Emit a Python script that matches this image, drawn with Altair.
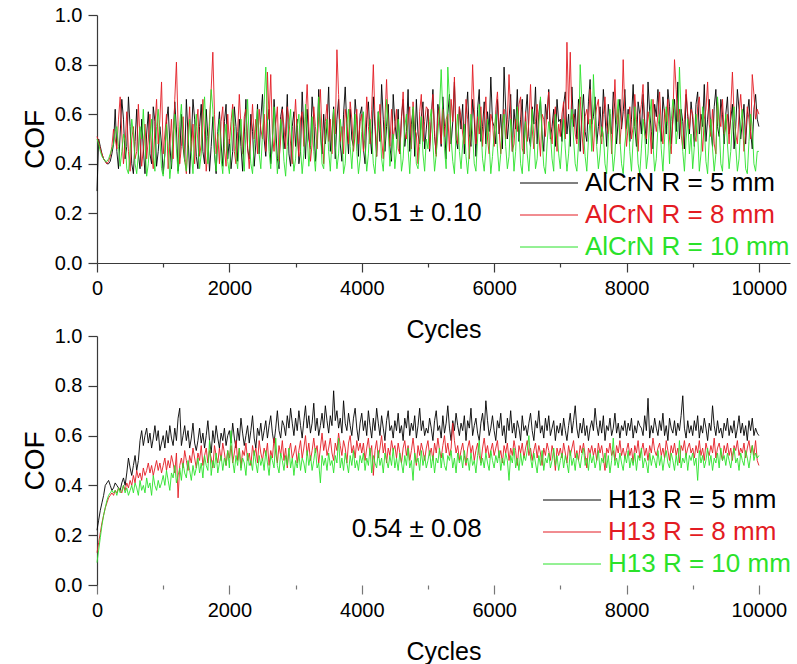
import altair as alt
import pandas as pd

FONT = "Liberation Sans"

# cycles sampled every 25 cycles, 0 .. 10000
CYCLES = list(range(0, 10001, 25))

TOP_LABELS = ["AlCrN R = 5 mm", "AlCrN R = 8 mm", "AlCrN R = 10 mm"]
BOTTOM_LABELS = ["H13 R = 5 mm", "H13 R = 8 mm", "H13 R = 10 mm"]
COLORS = ["#000000", "#e31b23", "#2ae22a"]
ANNOTATIONS = ["0.51 \u00b1 0.10", "0.54 \u00b1 0.08"]

X_TICKS = list(range(0, 10001, 1000))
Y_TICKS = [round(i * 0.1, 1) for i in range(11)]

# COF values in hundredths (one row = 500 cycles)
alcrn_5 = [
    29, 50, 47, 44, 42, 41, 40, 40, 41, 44, 48, 62, 45, 38, 52, 66, 58, 42, 47, 67,
    55, 40, 36, 49, 62, 44, 38, 58, 46, 36, 52, 61, 44, 40, 63, 57, 39, 45, 55, 48,
    36, 44, 57, 63, 48, 38, 50, 65, 54, 37, 43, 60, 47, 41, 66, 52, 36, 49, 66, 58,
    43, 38, 55, 64, 45, 40, 62, 51, 37, 47, 59, 44, 36, 53, 61, 48, 39, 57, 64, 42,
    50, 38, 45, 63, 55, 41, 58, 47, 37, 52, 66, 46, 42, 60, 53, 39, 48, 64, 44, 58,
    68, 50, 43, 57, 62, 40, 48, 66, 55, 42, 38, 59, 63, 46, 52, 68, 44, 39, 55, 61,
    47, 58, 40, 45, 69, 54, 42, 62, 50, 46, 67, 58, 41, 49, 70, 53, 44, 60, 48, 56,
    71, 45, 52, 63, 42, 58, 66, 48, 41, 60, 71, 55, 44, 62, 50, 47, 66, 58, 43, 60,
    63, 46, 40, 58, 65, 52, 44, 67, 55, 43, 61, 49, 72, 58, 45, 55, 64, 47, 41, 68,
    57, 50, 62, 44, 59, 66, 47, 53, 70, 45, 56, 62, 43, 66, 52, 48, 59, 65, 46, 54,
    62, 45, 58, 70, 51, 44, 64, 58, 47, 67, 55, 42, 60, 68, 48, 57, 73, 50, 46, 63,
    54, 64, 44, 60, 69, 52, 47, 66, 58, 43, 62, 70, 49, 55, 65, 48, 61, 53, 75, 57,
    55, 48, 66, 52, 60, 46, 79, 62, 50, 58, 68, 45, 62, 54, 70, 49, 58, 66, 44, 60,
    68, 51, 47, 63, 56, 71, 48, 60, 66, 52, 45, 64, 58, 70, 50, 55, 62, 47, 66, 57,
    58, 49, 64, 69, 52, 60, 47, 71, 55, 62, 50, 66, 45, 60, 68, 53, 49, 65, 74, 56,
    59, 67, 48, 55, 63, 51, 70, 60, 47, 64, 57, 52, 69, 62, 48, 58, 66, 54, 61, 70,
    54, 62, 49, 58, 72, 55, 47, 65, 60, 52, 68, 57, 48, 73, 61, 53, 46, 64, 59, 70,
    56, 49, 67, 60, 52, 70, 63, 48, 58, 66, 53, 73, 50, 62, 57, 46, 68, 59, 52, 65,
    58, 47, 64, 69, 52, 60, 55, 72, 49, 58, 66, 53, 47, 63, 70, 55, 51, 66, 60, 48,
    60, 67, 52, 58, 64, 46, 55, 70, 62, 50, 57, 64, 48, 60, 66, 53, 46, 62, 68, 58,
    55]
alcrn_8 = [
    51, 49, 46, 44, 42, 41, 40, 41, 43, 47, 54, 50, 46, 58, 67, 52, 40, 48, 61, 45,
    37, 50, 55, 42, 45, 64, 50, 39, 46, 56, 42, 50, 60, 44, 38, 55, 66, 48, 58, 73,
    44, 52, 60, 38, 47, 58, 42, 66, 81, 55, 40, 47, 59, 43, 36, 52, 63, 45, 56, 40,
    55, 62, 43, 48, 66, 52, 37, 45, 58, 70, 85, 60, 44, 52, 40, 57, 63, 46, 39, 60,
    48, 57, 64, 45, 40, 53, 68, 55, 44, 59, 62, 47, 38, 52, 64, 50, 58, 44, 62, 54,
    50, 60, 45, 77, 58, 76, 52, 45, 56, 63, 41, 50, 62, 55, 46, 63, 58, 48, 40, 54,
    66, 52, 43, 58, 61, 47, 59, 72, 55, 41, 48, 63, 55, 46, 59, 70, 52, 40, 57, 64,
    49, 58, 44, 62, 52, 86, 68, 49, 55, 44, 62, 57, 48, 65, 58, 45, 52, 62, 48, 57,
    60, 45, 51, 67, 55, 48, 62, 80, 58, 43, 56, 64, 50, 42, 58, 74, 55, 47, 62, 50,
    55, 62, 46, 44, 58, 69, 52, 50, 58, 63, 46, 65, 54, 52, 40, 61, 68, 49, 57, 63,
    62, 46, 57, 68, 53, 43, 60, 63, 48, 62, 51, 58, 60, 45, 66, 57, 75, 52, 48, 63,
    59, 52, 48, 66, 58, 42, 55, 80, 62, 48, 59, 52, 63, 47, 58, 67, 50, 44, 60, 57,
    47, 62, 69, 54, 44, 56, 62, 50, 58, 76, 60, 45, 48, 58, 53, 64, 67, 46, 44, 61,
    49, 57, 72, 54, 46, 57, 64, 52, 43, 60, 58, 51, 62, 69, 54, 48, 58, 63, 45, 56,
    51, 60, 65, 50, 89, 62, 85, 58, 60, 52, 48, 62, 67, 53, 44, 59, 62, 56, 70, 54,
    45, 58, 63, 66, 52, 48, 60, 67, 55, 52, 60, 44, 58, 74, 56, 62, 48, 57, 82, 60,
    47, 55, 63, 50, 55, 68, 58, 45, 59, 64, 72, 52, 50, 61, 56, 44, 66, 58, 53, 60,
    69, 55, 48, 62, 57, 66, 50, 44, 58, 82, 70, 57, 62, 52, 46, 58, 70, 60, 54, 62,
    60, 52, 49, 63, 67, 55, 45, 58, 62, 73, 56, 51, 62, 48, 44, 65, 58, 55, 66, 52,
    55, 60, 48, 62, 77, 60, 52, 48, 60, 68, 58, 45, 52, 63, 58, 50, 76, 68, 58, 62,
    60]
alcrn_10 = [
    50, 48, 45, 43, 42, 41, 41, 42, 44, 46, 48, 53, 55, 47, 39, 45, 52, 49, 38, 36,
    46, 58, 52, 40, 36, 44, 55, 50, 62, 48, 35, 40, 50, 58, 44, 37, 55, 62, 50, 38,
    35, 44, 56, 48, 34, 41, 52, 60, 46, 36, 56, 64, 50, 41, 37, 47, 58, 45, 36, 52,
    60, 48, 38, 44, 58, 67, 52, 40, 55, 70, 62, 45, 37, 50, 58, 42, 36, 49, 56, 41,
    36, 48, 62, 55, 43, 38, 50, 58, 45, 37, 53, 66, 50, 40, 36, 48, 55, 62, 44, 38,
    52, 64, 79, 58, 45, 38, 50, 63, 48, 36, 44, 58, 52, 41, 35, 47, 56, 62, 46, 37,
    42, 55, 60, 46, 36, 44, 64, 52, 39, 47, 59, 45, 37, 50, 67, 55, 40, 38, 52, 58,
    45, 37, 50, 62, 48, 38, 44, 58, 52, 36, 40, 56, 62, 47, 38, 50, 60, 45, 36, 42,
    53, 61, 47, 37, 44, 58, 52, 40, 36, 48, 61, 55, 42, 37, 50, 66, 54, 39, 45, 52,
    38, 46, 58, 51, 37, 42, 55, 60, 46, 36, 49, 63, 52, 40, 38, 47, 59, 44, 37, 50,
    46, 57, 62, 48, 37, 44, 52, 62, 78, 60, 46, 38, 79, 66, 50, 41, 36, 52, 60, 45,
    38, 48, 56, 43, 36, 45, 60, 52, 40, 37, 50, 64, 55, 42, 37, 46, 58, 48, 36, 43,
    52, 60, 46, 37, 44, 55, 60, 47, 38, 43, 58, 51, 37, 45, 63, 55, 40, 36, 50, 57,
    44, 37, 48, 62, 51, 38, 42, 55, 67, 50, 39, 36, 48, 57, 52, 42, 37, 60, 54, 44,
    38, 49, 58, 46, 37, 44, 55, 62, 50, 40, 37, 48, 80, 66, 52, 43, 37, 50, 58, 45,
    76, 60, 47, 38, 44, 55, 52, 40, 36, 50, 62, 48, 37, 44, 58, 66, 50, 40, 36, 48,
    54, 60, 45, 37, 50, 63, 52, 40, 36, 46, 58, 52, 38, 44, 59, 66, 48, 37, 42, 55,
    60, 46, 37, 50, 63, 55, 40, 57, 66, 62, 48, 54, 79, 60, 45, 37, 50, 58, 44, 52,
    38, 47, 60, 52, 37, 44, 63, 55, 41, 36, 50, 58, 46, 37, 44, 67, 55, 40, 37, 52,
    60, 48, 38, 45, 57, 63, 47, 37, 42, 56, 62, 50, 38, 36, 49, 60, 55, 40, 37, 45,
    45]

h13_5 = [
    22, 26, 30, 33, 36, 40, 41, 42, 40, 38, 39, 41, 40, 39, 38, 41, 43, 40, 45, 51,
    47, 44, 48, 52, 46, 50, 58, 62, 56, 60, 63, 57, 61, 55, 59, 64, 58, 62, 54, 57,
    60, 55, 62, 57, 64, 59, 56, 63, 58, 67, 71, 56, 60, 64, 58, 62, 55, 59, 65, 57,
    54, 58, 63, 57, 61, 55, 60, 66, 58, 53, 62, 57, 64, 59, 55, 61, 58, 63, 56, 60,
    62, 57, 65, 59, 55, 63, 58, 67, 61, 56, 60, 64, 57, 62, 68, 59, 55, 63, 60, 65,
    58, 62, 66, 59, 64, 68, 61, 57, 63, 70, 62, 59, 66, 64, 60, 68, 63, 71, 65, 60,
    67, 62, 70, 64, 59, 66, 72, 63, 68, 61, 65, 73, 62, 67, 60, 64, 69, 63, 72, 66,
    61, 68, 64, 78, 66, 70, 63, 67, 61, 74, 65, 62, 69, 64, 60, 67, 71, 63, 58, 65,
    69, 62, 66, 60, 70, 64, 59, 67, 62, 71, 65, 60, 68, 63, 58, 66, 70, 62, 64, 59,
    66, 62, 69, 61, 64, 58, 67, 63, 70, 60, 65, 62, 68, 59, 64, 71, 62, 66, 60, 63,
    61, 67, 63, 58, 66, 70, 62, 64, 59, 68, 61, 65, 72, 63, 58, 66, 62, 69, 64, 60,
    65, 62, 68, 58, 66, 63, 71, 60, 64, 67, 61, 58, 65, 69, 62, 74, 66, 60, 63, 68,
    62, 58, 66, 63, 69, 60, 64, 57, 67, 62, 70, 61, 65, 59, 66, 63, 58, 68, 62, 64,
    60, 65, 69, 62, 58, 66, 63, 70, 61, 64, 59, 67, 62, 68, 60, 63, 66, 58, 64, 61,
    65, 60, 67, 62, 58, 64, 69, 61, 66, 72, 63, 59, 65, 61, 67, 60, 64, 58, 63, 66,
    62, 71, 64, 60, 66, 61, 68, 58, 64, 62, 67, 60, 63, 69, 61, 65, 59, 64, 62, 66,
    60, 65, 62, 67, 59, 64, 61, 66, 64, 63, 60, 68, 62, 75, 59, 64, 61, 67, 63, 60,
    66, 62, 69, 60, 64, 58, 67, 63, 61, 66, 60, 65, 62, 68, 76, 63, 59, 66, 61, 64,
    60, 66, 62, 68, 59, 64, 61, 67, 63, 58, 65, 62, 72, 64, 60, 66, 61, 63, 59, 65,
    62, 67, 60, 64, 61, 66, 59, 63, 68, 61, 65, 60, 64, 58, 66, 62, 67, 60, 63, 61,
    60]
h13_8 = [
    13, 17, 21, 25, 28, 31, 33, 35, 36, 37, 36, 38, 37, 39, 38, 37, 40, 38, 41, 39,
    42, 40, 44, 41, 46, 43, 45, 42, 47, 44, 46, 49, 45, 48, 44, 47, 50, 46, 49, 45,
    48, 51, 46, 50, 47, 52, 49, 45, 53, 35, 48, 51, 47, 54, 50, 46, 52, 49, 55, 51,
    47, 53, 50, 56, 48, 52, 55, 49, 54, 51, 47, 56, 52, 49, 55, 50, 57, 53, 48, 54,
    51, 56, 49, 53, 58, 50, 55, 47, 54, 52, 57, 50, 53, 48, 56, 52, 55, 49, 58, 53,
    50, 55, 52, 57, 48, 54, 51, 59, 53, 49, 56, 52, 58, 50, 55, 47, 54, 57, 51, 53,
    56, 49, 54, 58, 51, 55, 60, 52, 57, 50, 54, 59, 53, 56, 49, 55, 61, 54, 58, 52,
    55, 59, 53, 50, 57, 54, 61, 56, 52, 58, 55, 49, 57, 60, 53, 56, 51, 58, 54, 57,
    53, 57, 50, 55, 59, 52, 56, 44, 54, 58, 51, 55, 60, 53, 57, 49, 55, 52, 58, 54,
    56, 51, 57, 53, 49, 55, 58, 52, 56, 50, 54, 59, 53, 48, 56, 52, 57, 54, 50, 55,
    58, 52, 55, 50, 57, 53, 59, 54, 51, 56, 60, 53, 57, 52, 55, 65, 58, 53, 56, 50,
    54, 57, 52, 48, 55, 58, 53, 56, 50, 54, 57, 52, 49, 55, 59, 53, 56, 51, 54, 57,
    52, 55, 58, 51, 54, 49, 56, 53, 57, 50, 55, 52, 58, 54, 48, 56, 53, 57, 51, 55,
    58, 52, 55, 50, 54, 57, 51, 56, 53, 48, 55, 52, 57, 54, 50, 56, 53, 46, 55, 52,
    55, 51, 57, 53, 49, 56, 52, 55, 58, 51, 54, 50, 56, 53, 57, 52, 47, 55, 53, 56,
    52, 55, 50, 57, 53, 56, 51, 46, 55, 53, 57, 52, 54, 50, 56, 53, 58, 52, 55, 51,
    54, 57, 52, 55, 49, 56, 53, 58, 51, 54, 57, 52, 55, 50, 56, 53, 59, 54, 52, 55,
    57, 52, 55, 51, 58, 54, 50, 56, 53, 57, 52, 55, 49, 56, 54, 58, 52, 55, 57, 53,
    55, 51, 56, 53, 58, 52, 55, 50, 57, 54, 52, 56, 53, 59, 51, 55, 57, 53, 50, 56,
    53, 57, 52, 55, 50, 56, 54, 58, 52, 55, 53, 57, 51, 55, 58, 53, 56, 52, 58, 50,
    48]
h13_10 = [
    9, 14, 19, 24, 28, 31, 34, 36, 37, 38, 37, 38, 36, 39, 37, 38, 40, 37, 39, 36,
    38, 40, 37, 41, 39, 36, 42, 38, 40, 37, 43, 39, 41, 36, 44, 40, 38, 42, 39, 41,
    44, 40, 46, 42, 38, 45, 43, 48, 41, 44, 47, 42, 49, 45, 43, 50, 46, 42, 48, 44,
    47, 51, 45, 49, 43, 52, 48, 46, 58, 44, 50, 47, 53, 45, 49, 52, 46, 51, 48, 54,
    47, 62, 50, 45, 52, 48, 55, 46, 51, 49, 44, 53, 48, 50, 46, 54, 49, 45, 52, 48,
    51, 46, 54, 49, 44, 52, 50, 47, 59, 48, 45, 53, 50, 46, 52, 48, 55, 47, 51, 44,
    50, 47, 53, 46, 51, 49, 45, 54, 48, 52, 46, 50, 55, 47, 49, 41, 52, 48, 51, 46,
    53, 48, 50, 45, 52, 49, 59, 47, 51, 46, 53, 49, 45, 52, 48, 54, 47, 50, 46, 52,
    49, 53, 46, 51, 48, 55, 45, 52, 49, 47, 54, 48, 51, 45, 53, 50, 47, 52, 48, 55,
    47, 51, 46, 53, 49, 45, 52, 48, 55, 47, 50, 42, 53, 49, 51, 46, 54, 48, 52, 47,
    50, 54, 47, 52, 45, 51, 49, 55, 47, 53, 48, 46, 52, 50, 54, 47, 51, 45, 53, 49,
    52, 47, 54, 49, 51, 46, 53, 48, 50, 45, 52, 58, 48, 51, 47, 53, 49, 46, 54, 50,
    47, 52, 49, 54, 46, 51, 48, 53, 50, 42, 52, 49, 55, 47, 51, 46, 53, 48, 52, 50,
    54, 60, 51, 47, 53, 49, 45, 52, 48, 54, 46, 51, 49, 53, 47, 50, 55, 48, 52, 46,
    50, 53, 47, 52, 49, 45, 54, 48, 51, 46, 53, 50, 47, 52, 55, 48, 51, 46, 53, 49,
    52, 47, 50, 54, 46, 51, 49, 53, 47, 52, 45, 50, 59, 48, 51, 47, 53, 49, 46, 52,
    49, 54, 47, 51, 48, 53, 46, 52, 50, 55, 47, 51, 49, 45, 53, 48, 52, 50, 47, 54,
    48, 52, 46, 51, 54, 49, 47, 53, 50, 46, 52, 48, 58, 47, 51, 49, 53, 46, 52, 50,
    53, 48, 51, 42, 54, 49, 52, 47, 50, 55, 48, 52, 46, 51, 49, 53, 47, 55, 50, 52,
    48, 53, 50, 47, 52, 55, 49, 51, 46, 53, 50, 48, 54, 51, 47, 52, 56, 50, 53, 51,
    52]


def frame(labels, series):
    rows = []
    for order, (label, vals) in enumerate(zip(labels, series)):
        for c, v in zip(CYCLES, vals):
            rows.append({"cycles": c, "cof": v / 100.0, "series": label, "k": order})
    return pd.DataFrame(rows)


def label_color_expr(labels):
    return (f"datum.label == '{labels[1]}' ? '{COLORS[1]}' : "
            f"datum.label == '{labels[2]}' ? '{COLORS[2]}' : '{COLORS[0]}'")


def panel(labels, series, note, note_x, note_y, legend_x, legend_y, height, show_x_domain):
    df = frame(labels, series)
    axis_color = "#3a3a3a" if show_x_domain else "#777777"
    x_axis = alt.Axis(
        values=X_TICKS, format="d",
        labelExpr="datum.value % 2000 == 0 ? datum.label : ''",
        title="Cycles", grid=False, domain=show_x_domain,
        domainColor="#3a3a3a", tickColor=axis_color, domainWidth=1.2, tickWidth=1.2,
        tickSize={"condition": {"test": "datum.value % 2000 == 0", "value": 9}, "value": 4},
        labelFont=FONT, labelFontSize=20, labelColor="#000000", labelPadding=6,
        labelFlush=False, labelOverlap=False,
        titleFont=FONT, titleFontSize=25, titleFontWeight="normal", titleColor="#000000",
        titlePadding=19,
    )
    y_axis = alt.Axis(
        values=Y_TICKS,
        labelExpr="round(datum.value * 10) % 2 == 0 ? format(datum.value, '.1f') : ''",
        title="COF", grid=False, domainColor="#3a3a3a", tickColor="#3a3a3a",
        domainWidth=1.2, tickWidth=1.2,
        tickSize={"condition": {"test": "round(datum.value * 10) % 2 == 0", "value": 9}, "value": 4},
        labelFont=FONT, labelFontSize=20, labelColor="#000000", labelPadding=6,
        labelOverlap=False,
        titleFont=FONT, titleFontSize=28, titleFontWeight="normal", titleColor="#000000",
        titlePadding=5,
    )
    x_scale = alt.Scale(domain=[0, 10470], nice=False)
    y_scale = alt.Scale(domain=[0, 1], nice=False)
    legend = alt.Legend(
        title=None, orient="none", legendX=legend_x, legendY=legend_y,
        symbolType="M-1,0H4.8", symbolSize=400, symbolStrokeWidth=1,
        labelFont=FONT, labelFontSize=26, labelLimit=400, labelOffset=42,
        rowPadding=6, labelColor={"expr": label_color_expr(labels)},
    )
    lines = alt.Chart(df).mark_line(strokeWidth=0.9).encode(
        x=alt.X("cycles:Q", scale=x_scale, axis=x_axis),
        y=alt.Y("cof:Q", scale=y_scale, axis=y_axis),
        color=alt.Color("series:N", scale=alt.Scale(domain=labels, range=COLORS), legend=legend),
        order=alt.Order("k:Q"),
    )
    text = alt.Chart(pd.DataFrame({"note": [note]})).mark_text(
        font=FONT, fontSize=26, color="#000000"
    ).encode(
        x=alt.datum(note_x), y=alt.datum(note_y), text="note:N"
    )
    return alt.layer(lines, text).properties(width=693, height=height)


top = panel(TOP_LABELS, [alcrn_5, alcrn_8, alcrn_10], ANNOTATIONS[0], 4830, 0.20,
            420, 155, 248, True)
bottom = panel(BOTTOM_LABELS, [h13_5, h13_8, h13_10], ANNOTATIONS[1], 4830, 0.225,
               443, 151, 249, False)

chart = alt.vconcat(top, bottom, spacing=73, bounds="flush").resolve_scale(
    color="independent"
).resolve_legend(color="independent").configure_view(stroke=None).properties(
    padding={"left": 21, "top": 5, "right": 5, "bottom": 5},
    background="#ffffff",
)

chart.save("out.html", embed_options={"renderer": "svg", "actions": False})
